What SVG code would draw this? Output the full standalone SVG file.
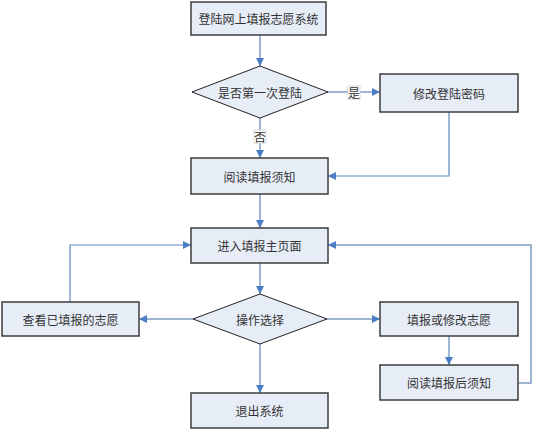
<svg xmlns="http://www.w3.org/2000/svg" width="555" height="433" viewBox="0 0 555 433">
<defs>
<marker id="ah" viewBox="0 0 10 10" refX="10" refY="5" markerWidth="8" markerHeight="8" markerUnits="userSpaceOnUse" orient="auto">
<path d="M0,0 L10,5 L0,10 z" fill="#4A7EC4"/>
</marker>
<style>
.box{fill:#E7EDF7;stroke:#3C3C3C;stroke-width:1.5}
.dia{fill:#E7EDF7;stroke:#222;stroke-width:1}
.t{font-family:"Noto Sans CJK SC","Liberation Sans",sans-serif;font-size:12px;fill:#333;text-anchor:middle;dominant-baseline:central}
.c1{fill:none;stroke:#9FB3D3;stroke-width:2;marker-end:url(#ah)}
.c2{fill:none;stroke:#5C86C2;stroke-width:1.2;marker-end:url(#ah)}
.lb{fill:#fff;stroke:#ccc;stroke-width:0.8}
</style>
</defs>
<rect width="555" height="433" fill="#fff"/>
<g id="connectors">
<path class="c1" d="M260,35 V66"/>
<path class="c1" d="M328,92 H380"/>
<path class="c1" d="M260,118 V158"/>
<path class="c2" d="M449,112 V176 H328"/>
<path class="c1" d="M260,194 V228"/>
<path class="c2" d="M70,302 V245 H191"/>
<path class="c1" d="M260,263 V294"/>
<path class="c1" d="M193,319 H139"/>
<path class="c1" d="M327,319 H380"/>
<path class="c1" d="M260,344 V393"/>
<path class="c2" d="M449,336 V365"/>
<path class="c1" d="M518,383 H531 V245 H328"/>
<rect class="lb" x="348" y="86" width="12" height="13"/>
<text class="t" x="354" y="92.5">是</text>
<rect class="lb" x="254" y="130" width="12" height="13"/>
<text class="t" x="260" y="136.5">否</text>
</g>
<g id="n1"><rect class="box" x="191" y="2" width="135" height="33"/><text class="t" x="258.5" y="18.5">登陆网上填报志愿系统</text></g>
<g id="n2"><polygon class="dia" points="192,92 260,66 328,92 260,118"/><text class="t" x="260" y="92">是否第一次登陆</text></g>
<g id="n3"><rect class="box" x="380" y="74" width="138" height="38"/><text class="t" x="449" y="93">修改登陆密码</text></g>
<g id="n4"><rect class="box" x="191" y="158" width="137" height="36"/><text class="t" x="259.5" y="176">阅读填报须知</text></g>
<g id="n5"><rect class="box" x="191" y="228" width="137" height="35"/><text class="t" x="259.5" y="245.5">进入填报主页面</text></g>
<g id="n6"><polygon class="dia" points="193,319 260,294 327,319 260,344"/><text class="t" x="260" y="319">操作选择</text></g>
<g id="n7"><rect class="box" x="2" y="302" width="137" height="34"/><text class="t" x="70.5" y="319">查看已填报的志愿</text></g>
<g id="n8"><rect class="box" x="380" y="302" width="138" height="34"/><text class="t" x="449" y="319">填报或修改志愿</text></g>
<g id="n9"><rect class="box" x="380" y="365" width="138" height="35"/><text class="t" x="449" y="382.5">阅读填报后须知</text></g>
<g id="n10"><rect class="box" x="191" y="393" width="137" height="35"/><text class="t" x="259.5" y="410.5">退出系统</text></g>
</svg>
